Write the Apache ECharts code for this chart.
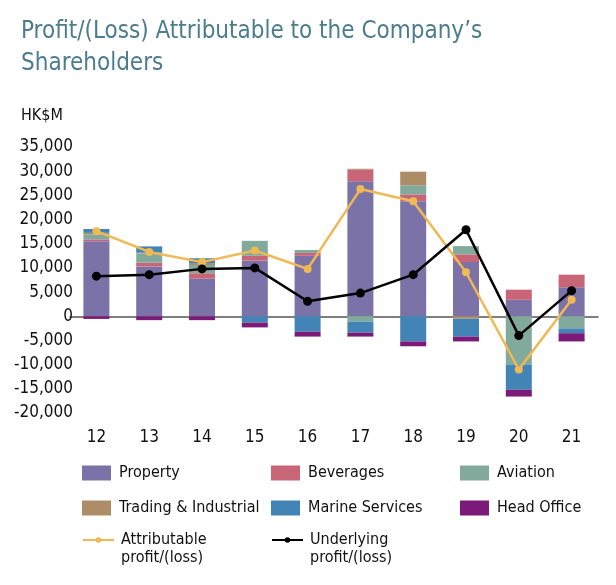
<!DOCTYPE html>
<html>
<head>
<meta charset="utf-8">
<script src="https://cdn.jsdelivr.net/npm/echarts@6/dist/echarts.min.js"></script>
<style>
html,body{margin:0;padding:0;background:#fff;}
#c{width:616px;height:585px;}
</style>
</head>
<body>
<div id="c"></div>
<script>
const years = ['12','13','14','15','16','17','18','19','20','21'];
const property   = [15500, 10300, 7800, 11500, 12500, 27900, 23800, 11200, 3400, 6000];
const beverages  = [400, 800, 1100, 1000, 600, 2400, 1400, 1600, 2100, 2600];
const aviation   = [1000, 1900, 1700, 3100, 600, -1100, 1900, 1700, -10000, -2500];
const trading    = [350, 150, 400, 0, 0, 200, 2800, -500, 0, 0];
const marine     = [800, 1300, 1000, -1300, -3200, -2300, -5200, -3700, -5200, -1000];
const headOffice = [-550, -800, -800, -1000, -1000, -800, -1000, -1000, -1400, -1700];
const attributable = [17600, 13300, 11200, 13600, 9800, 26300, 23800, 9100, -11000, 3400];
const underlying   = [8300, 8600, 9800, 10000, 3100, 4800, 8600, 17900, -4000, 5300];

const FONT = "'Liberation Sans Narrow', 'DejaVu Sans Condensed', sans-serif";
const chart = echarts.init(document.getElementById('c'), null, {renderer: 'canvas'});

function bar(name, data, color) {
  return {name, type: 'bar', stack: 'total', data, barWidth: 26,
    itemStyle: {color}, emphasis: {disabled: true}};
}
function leg(name, left, top) {
  return {
    data: [name], left, top, itemWidth: 29, itemHeight: 15, selectedMode: false,
    padding: 0, itemGap: 0, icon: 'rect',
    textStyle: {fontFamily: FONT, fontSize: 16, color: '#111', padding: [0, 0, 0, 3]}
  };
}
function lineLeg(name, left, top, label) {
  return {
    data: [name], left, top, itemWidth: 31, itemHeight: 7, selectedMode: false,
    padding: 0, itemGap: 0,
    formatter: () => '\u00a0\n' + label + '\nprofit/(loss)',
    textStyle: {fontFamily: FONT, fontSize: 16, color: '#111', lineHeight: 18, padding: [0, 0, 0, 2]}
  };
}

chart.setOption({
  animation: false,
  title: [
    {text: "Profit/(Loss) Attributable to the Company\u2019s\nShareholders", left: 16, top: 11,
     textStyle: {fontFamily: FONT, fontSize: 24, fontWeight: 'normal', color: '#4b7d8f', lineHeight: 32}},
    {text: 'HK$M', left: 16, top: 103,
     textStyle: {fontFamily: FONT, fontSize: 16, fontWeight: 'normal', color: '#111'}}
  ],
  legend: [
    leg('Property', 82, 465), leg('Beverages', 271, 465), leg('Aviation', 460, 465),
    leg('Trading & Industrial', 82, 500), leg('Marine Services', 271, 500), leg('Head Office', 460, 500),
    lineLeg('Attributable', 82, 513, 'Attributable'), lineLeg('Underlying', 271, 513, 'Underlying')
  ],
  grid: {left: 70, right: 18, top: 147, bottom: 172},
  xAxis: {
    type: 'category', data: years,
    axisLine: {onZero: true, lineStyle: {color: '#555', width: 1.5}},
    axisTick: {show: false},
    axisLabel: {fontFamily: FONT, fontSize: 17, color: '#111', margin: 16},
    position: 'bottom'
  },
  yAxis: {
    type: 'value', min: -20000, max: 35000, interval: 5000,
    splitLine: {show: false}, axisLine: {show: false}, axisTick: {show: false},
    axisLabel: {fontFamily: FONT, fontSize: 17, color: '#111', margin: -3,
      formatter: v => v.toLocaleString('en-US')}
  },
  series: [
    bar('Property', property, '#7b72a8'),
    bar('Beverages', beverages, '#c86677'),
    bar('Aviation', aviation, '#82aa9c'),
    bar('Trading & Industrial', trading, '#ad8c68'),
    bar('Marine Services', marine, '#4384b6'),
    bar('Head Office', headOffice, '#7b1a78'),
    {name: 'Attributable', type: 'line', data: attributable, symbol: 'circle', symbolSize: 8,
     lineStyle: {color: '#f0b953', width: 2.5}, itemStyle: {color: '#f0b953'}, z: 5},
    {name: 'Underlying', type: 'line', data: underlying, symbol: 'circle', symbolSize: 9,
     lineStyle: {color: '#000', width: 2.5}, itemStyle: {color: '#000'}, z: 6}
  ]
});
</script>
</body>
</html>
